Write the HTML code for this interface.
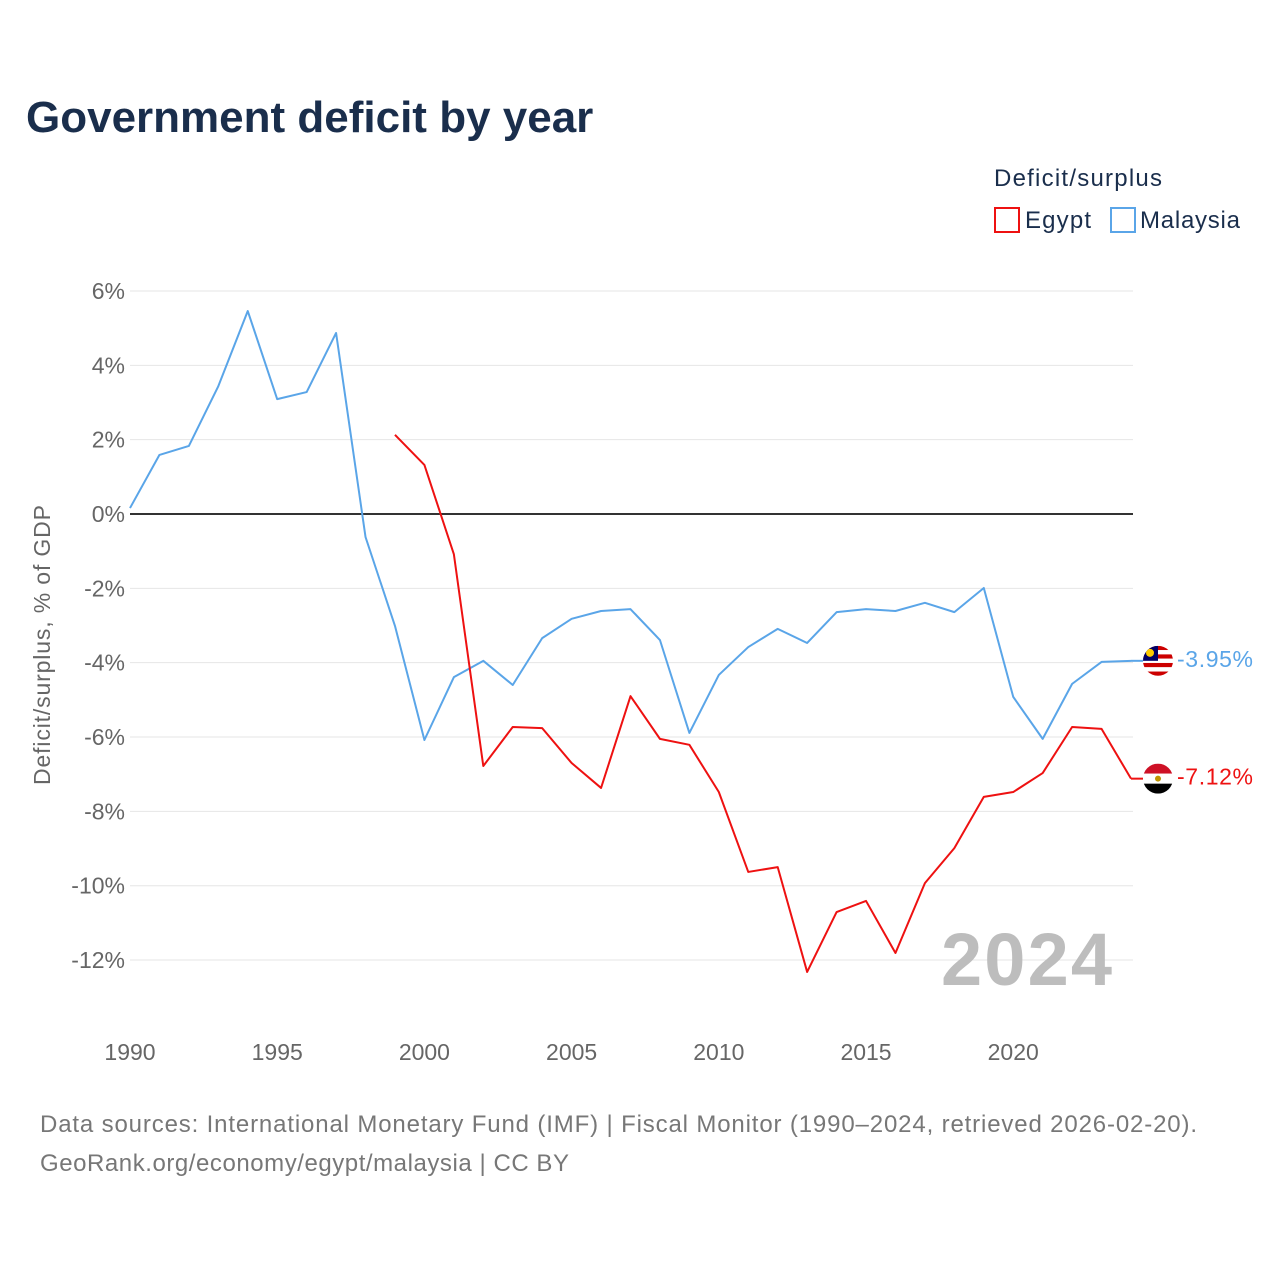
<!DOCTYPE html>
<html><head><meta charset="utf-8"><style>
body{margin:0;background:#fff;font-family:"Liberation Sans",sans-serif;}
svg text{font-family:"Liberation Sans",sans-serif;}
</style></head><body>
<svg id="chart" width="1280" height="1280" viewBox="0 0 1280 1280">
<text x="26" y="132" font-size="44" font-weight="bold" fill="#1a2e4c">Government deficit by year</text>
<text x="994" y="186" font-size="24" fill="#1a2e4c" textLength="168">Deficit/surplus</text>
<g><rect x="995" y="208" width="24" height="24" fill="none" stroke="#ee1111" stroke-width="2"/><text x="1025" y="228" font-size="24" fill="#1a2e4c" textLength="66">Egypt</text></g>
<g><rect x="1111" y="208" width="24" height="24" fill="none" stroke="#5aa5e8" stroke-width="2"/><text x="1140" y="228" font-size="24" fill="#1a2e4c" textLength="100">Malaysia</text></g>
<g id="grid"></g><g id="yt"></g><g id="xt"></g>
<text x="941" y="985" font-size="74" font-weight="bold" fill="#bdbdbd" textLength="171">2024</text>
<text transform="translate(50,645) rotate(-90)" text-anchor="middle" font-size="23" fill="#666" textLength="280">Deficit/surplus, % of GDP</text>
<g id="series"></g>
<text x="40" y="1132" font-size="24" fill="#777" textLength="1157">Data sources: International Monetary Fund (IMF) | Fiscal Monitor (1990–2024, retrieved 2026-02-20).</text>
<text x="40" y="1171" font-size="24" fill="#777" textLength="529">GeoRank.org/economy/egypt/malaysia | CC BY</text>
</svg>
<script>
const years=[];for(let y=1990;y<=2024;y++)years.push(y);
const malaysia=[0.16,1.59,1.83,3.44,5.46,3.09,3.28,4.87,-0.62,-3.01,-6.08,-4.39,-3.95,-4.6,-3.34,-2.82,-2.61,-2.56,-3.39,-5.89,-4.33,-3.58,-3.09,-3.47,-2.64,-2.56,-2.61,-2.39,-2.64,-1.99,-4.92,-6.05,-4.57,-3.98,-3.95];
const egyptYears=[1999,2000,2001,2002,2003,2004,2005,2006,2007,2008,2009,2010,2011,2012,2013,2014,2015,2016,2017,2018,2019,2020,2021,2022,2023,2024];
const egypt=[2.13,1.32,-1.08,-6.78,-5.73,-5.76,-6.70,-7.37,-4.90,-6.05,-6.21,-7.48,-9.63,-9.50,-12.32,-10.71,-10.41,-11.81,-9.93,-8.99,-7.61,-7.48,-6.97,-5.73,-5.78,-7.12];
const yTicks=[6,4,2,0,-2,-4,-6,-8,-10,-12];
const xTicks=[1990,1995,2000,2005,2010,2015,2020];
const X=y=>130+(y-1990)*(1131-130)/34;
const Y=v=>514-v*37.17;
const NS="http://www.w3.org/2000/svg";
function mk(tag,attrs,parent){const e=document.createElementNS(NS,tag);for(const k in attrs)e.setAttribute(k,attrs[k]);parent.appendChild(e);return e;}
const grid=document.getElementById('grid'),yt=document.getElementById('yt'),xt=document.getElementById('xt'),ser=document.getElementById('series');
yTicks.forEach(v=>{
 const l=mk('line',{x1:130,x2:1133,y1:Y(v),y2:Y(v),stroke:v===0?'#333':'#e6e6e6','stroke-width':v===0?2:1},grid);
 
 
 const t=mk('text',{x:125,y:Y(v)+8,'text-anchor':'end','font-size':23,fill:'#666'},yt);
 t.textContent=v+'%';
 
 
});
xTicks.forEach(v=>{
 const t=mk('text',{x:X(v),y:1060,'text-anchor':'middle','font-size':23,fill:'#666'},xt);
 t.textContent=v;
 
 
});
function line(xs,vs,color,name){
 const p=mk('polyline',{points:xs.map((x,i)=>X(x)+','+Y(vs[i])).join(' '),fill:'none',stroke:color,'stroke-width':2,'stroke-linejoin':'round'},ser);
 
 
 const lx=X(xs[xs.length-1]),ly=Y(vs[vs.length-1]);
 mk('line',{x1:lx,x2:lx+12,y1:ly,y2:ly,stroke:color,'stroke-width':2},ser);
 return [lx+27,ly];
}
const [mx,my]=line(years,malaysia,'#5aa5e8','malaysia-line');
const [ex,ey]=line(egyptYears,egypt,'#ee1111','egypt-line');
let g=mk('g',{},ser);
for(let i=0;i<7;i++)mk('rect',{x:mx-15,y:my-15+i*30/7,width:30,height:30/7,fill:i%2?'#fff':'#cc0000'},g);
mk('rect',{x:mx-15,y:my-15,width:15,height:15,fill:'#010066'},g);
mk('circle',{cx:mx-8,cy:my-8,r:4,fill:'#fc0'},g);
g=mk('g',{},ser);
mk('rect',{x:ex-15,y:ey-15,width:30,height:10,fill:'#ce1126'},g);
mk('rect',{x:ex-15,y:ey-5,width:30,height:10,fill:'#fff'},g);
mk('rect',{x:ex-15,y:ey+5,width:30,height:10,fill:'#000'},g);
mk('circle',{cx:ex,cy:ey,r:3,fill:'#c09300'},g);
ser.querySelectorAll('g').forEach((gg,i)=>{const c=i===0?[mx,my]:[ex,ey];const id='c'+i;const p=mk('clipPath',{id:id},ser);mk('circle',{cx:c[0],cy:c[1],r:15},p);gg.setAttribute('clip-path','url(#'+id+')');});
let t=mk('text',{x:mx+19,y:my+6,'font-size':23,fill:'#5aa5e8',textLength:76},ser);t.textContent=malaysia[malaysia.length-1].toFixed(2)+'%';


t=mk('text',{x:ex+19,y:ey+6,'font-size':23,fill:'#ee1111',textLength:76},ser);t.textContent=egypt[egypt.length-1].toFixed(2)+'%';


</script>
</body></html>
